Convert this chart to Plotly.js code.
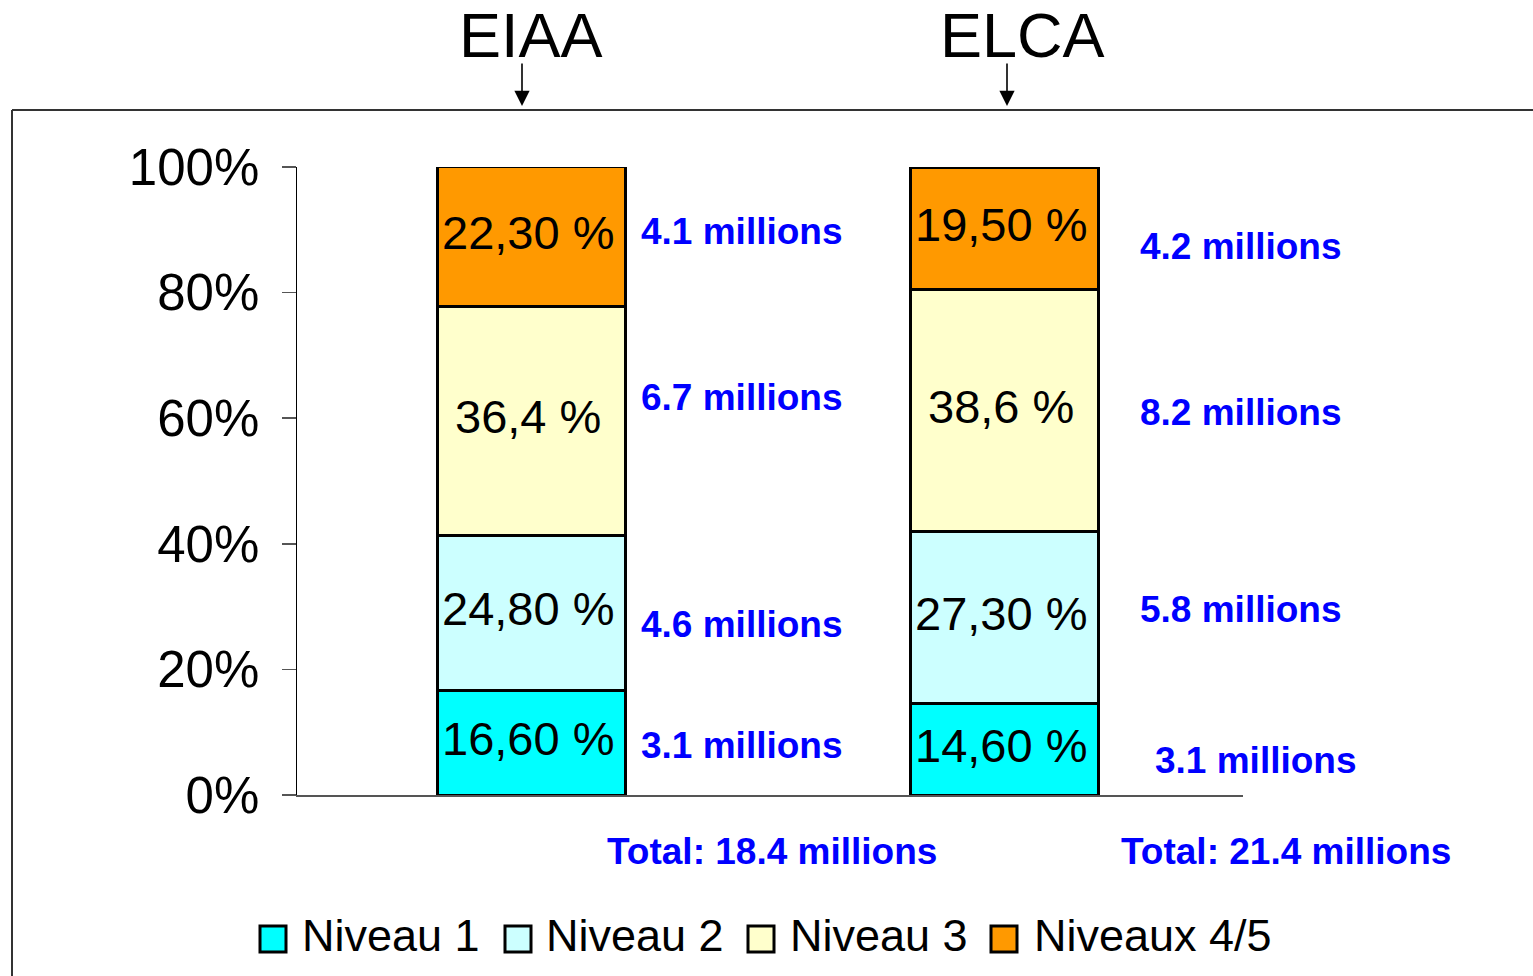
<!DOCTYPE html>
<html>
<head>
<meta charset="utf-8">
<script src="https://cdn.plot.ly/plotly-3.0.1.min.js"></script>
<style>html,body{margin:0;padding:0;background:#fff;}#chart{width:1533px;height:976px;}</style>
</head>
<body>
<div id="chart"></div>
<script>
// ---- data ----
const categories = ['EIAA', 'ELCA'];
const seriesNames = ['Niveau 1', 'Niveau 2', 'Niveau 3', 'Niveaux 4/5'];
const niveau1 = [16.6, 14.6];
const niveau2 = [24.8, 27.3];
const niveau3 = [36.4, 38.6];
const niveau45 = [22.3, 19.5];
const niveau1Labels = ['16,60 %', '14,60 %'];
const niveau2Labels = ['24,80 %', '27,30 %'];
const niveau3Labels = ['36,4 %', '38,6 %'];
const niveau45Labels = ['22,30 %', '19,50 %'];
const millionsEIAA = ['3.1 millions', '4.6 millions', '6.7 millions', '4.1 millions'];
const millionsELCA = ['3.1 millions', '5.8 millions', '8.2 millions', '4.2 millions'];
const totals = ['Total: 18.4 millions', 'Total: 21.4 millions'];
const tickValues = [0, 20, 40, 60, 80, 100];

// ---- styles ----
const colors = ['#00FFFF', '#CCFFFF', '#FFFFCC', '#FF9900'];
const FONT = 'Liberation Sans, Arial, sans-serif';
const W = 1533, H = 976;
const L = 297, R = 1243, T = 167, B = 795;
const px = x => (x - L) / (R - L);
const py = y => (B - y) / (B - T);

const values = [niveau1, niveau2, niveau3, niveau45];
const labels = [niveau1Labels, niveau2Labels, niveau3Labels, niveau45Labels];
const traces = values.map((v, i) => ({
  type: 'bar', name: seriesNames[i], x: categories, y: v,
  marker: {color: colors[i], line: {color: '#000', width: 3}},
  width: 0.396, hoverinfo: 'skip', showlegend: false
}));

const annotations = [];
const shapes = [];
// segment labels, placed at the middle of each stacked segment
categories.forEach((c, j) => {
  let base = 0;
  values.forEach((v, i) => {
    annotations.push({xref: 'x', yref: 'y', x: c, y: base + v[j] / 2, text: labels[i][j],
      showarrow: false, xanchor: 'center', yanchor: 'middle', xshift: -4, yshift: 4,
      font: {family: FONT, size: 47, color: '#000'}});
    base += v[j];
  });
});
// Titles with arrows
const titleX = [531, 1022];
const arrowX = [522, 1007];
categories.forEach((c, i) => {
  annotations.push({xref: 'paper', yref: 'paper', x: px(titleX[i]), y: py(35), text: c,
    showarrow: false, xanchor: 'center', yanchor: 'middle',
    font: {family: FONT, size: 63, color: '#000'}});
  annotations.push({xref: 'paper', yref: 'paper', x: px(arrowX[i]), y: py(106), text: '',
    showarrow: true, ax: 0, ay: -44, arrowhead: 2, arrowsize: 1.9, arrowwidth: 1.6, arrowcolor: '#000'});
});
// millions labels
const eiaaY = [745, 624, 397, 231];
const elcaY = [760, 609, 412, 246];
const elcaX = [1155, 1140, 1140, 1140];
const blueFont = {family: FONT, size: 37, color: '#0000FF', weight: 'bold'};
millionsEIAA.forEach((t, i) => annotations.push({xref: 'paper', yref: 'paper', x: px(639), y: py(eiaaY[i]),
  text: t, showarrow: false, xanchor: 'left', yanchor: 'middle', font: blueFont}));
millionsELCA.forEach((t, i) => annotations.push({xref: 'paper', yref: 'paper', x: px(elcaX[i] - 2), y: py(elcaY[i]),
  text: t, showarrow: false, xanchor: 'left', yanchor: 'middle', font: blueFont}));
const totalX = [772, 1286];
totals.forEach((t, i) => annotations.push({xref: 'paper', yref: 'paper', x: px(totalX[i]), y: py(851),
  text: t, showarrow: false, xanchor: 'center', yanchor: 'middle', font: blueFont}));

// legend (custom)
const legSq = [260, 505, 748, 991];
const legTx = [302, 546, 790, 1034];
seriesNames.forEach((n, i) => {
  shapes.push({type: 'rect', xref: 'paper', yref: 'paper', x0: px(legSq[i]), x1: px(legSq[i] + 26),
    y0: py(952), y1: py(926), fillcolor: colors[i], line: {color: '#000', width: 3}});
  annotations.push({xref: 'paper', yref: 'paper', x: px(legTx[i] - 2), y: py(935), text: n,
    showarrow: false, xanchor: 'left', yanchor: 'middle', font: {family: FONT, size: 45, color: '#000'}});
});

// frame lines
shapes.push({type: 'line', xref: 'paper', yref: 'paper', x0: px(12), x1: px(1540), y0: py(110), y1: py(110),
  line: {color: '#333', width: 2}});
shapes.push({type: 'line', xref: 'paper', yref: 'paper', x0: px(12), x1: px(12), y0: py(110), y1: py(985),
  line: {color: '#333', width: 2}});

const layout = {
  width: W, height: H,
  margin: {l: L, r: W - R, t: T, b: H - B, pad: 0},
  paper_bgcolor: '#fff', plot_bgcolor: '#fff',
  barmode: 'stack', showlegend: false,
  font: {family: FONT, color: '#000'},
  xaxis: {type: 'category', range: [-0.496, 1.504], showticklabels: false, ticks: '',
    showline: true, linecolor: '#555', linewidth: 2, showgrid: false, zeroline: false, fixedrange: true},
  yaxis: {range: [0, 100], tickvals: tickValues, ticktext: tickValues.map(v => v + '%'),
    ticks: 'outside', ticklen: 14, tickcolor: '#555', tickwidth: 1.5, ticklabelstandoff: 12,
    tickfont: {family: FONT, size: 51, color: '#000'},
    showline: true, linecolor: '#000', linewidth: 1.5, showgrid: false, zeroline: false, fixedrange: true},
  annotations: annotations, shapes: shapes
};
Plotly.newPlot('chart', traces, layout, {displayModeBar: false, staticPlot: true});
</script>
</body>
</html>
